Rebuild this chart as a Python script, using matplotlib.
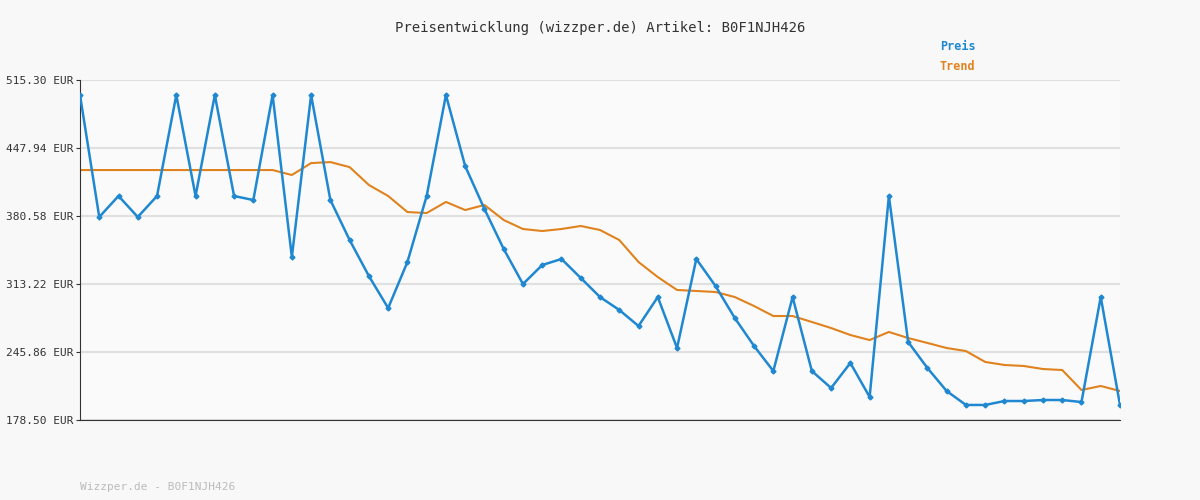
import matplotlib
matplotlib.use("Agg")
import matplotlib.pyplot as plt

preis = [500.4,379.6,400.4,379.6,400.4,500.4,400.4,500.4,400.4,396.4,500.4,340.0,500.4,396.4,356.8,321.1,289.4,335.0,400.4,500.4,
         430.0,387.5,347.9,313.2,332.0,338.0,319.2,300.3,287.5,271.6,300.3,249.8,338.0,311.2,279.5,251.8,227.0,300.3,227.0,210.2,
         235.0,201.3,400.4,255.8,230.0,207.2,193.4,193.4,197.3,197.3,198.3,198.3,196.3,300.3,193.4]
trend = [426.1]*11 + [421.2,433.0,434.0,429.0,411.3,400.4,384.5,383.5,394.5,386.5,391.5,376.6,367.7,365.7,367.7,370.7,366.7,356.8,
         335.0,320.1,307.3,306.3,305.3,300.3,291.4,281.5,281.5,275.6,269.6,262.7,257.7,265.7,259.7,254.8,249.8,246.8,236.0,233.0,
         232.0,229.0,228.0,208.2,212.2,207.2]
yticks = [178.50,245.86,313.22,380.58,447.94,515.30]
title = "Preisentwicklung (wizzper.de) Artikel: B0F1NJH426"

plt.rcParams['font.family'] = ['DejaVu Sans Mono']
fig = plt.figure(figsize=(12,5), dpi=100, facecolor='#f8f8f8')
ax = fig.add_axes([80/1200, 80/500, 1040/1200, 340/500])
ax.set_facecolor('#fafafa')
x = list(range(len(preis)))
ax.plot(x, trend, color='#e0821e', lw=1.5, zorder=2)
ax.plot(x, preis, color='#1f88d0', lw=1.8, marker='D', ms=2.5, zorder=3)
ax.set_xlim(0, len(preis)-1)
ax.set_ylim(178.50, 515.30)
ax.set_yticks(yticks)
ax.set_yticklabels([f"{v:.2f} EUR" for v in yticks], fontsize=8, color='#333333')
ax.set_xticks([])
ax.grid(axis='y', color='#e0e0e0', lw=1.5)
for s in ['top','right']:
    ax.spines[s].set_visible(False)
ax.spines['left'].set_color('#333333')
ax.spines['bottom'].set_color('#333333')
ax.tick_params(axis='y', length=3, pad=2, color='#333333')
fig.text(0.5, 1-28/500, title, ha='center', va='center', fontsize=10, color='#333333')
fig.text(940/1200, 1-47/500, "Preis", color='#1f88d0', fontsize=8.5, fontweight='bold', va='center')
fig.text(940/1200, 1-67/500, "Trend", color='#e0821e', fontsize=8.5, fontweight='bold', va='center')
fig.text(80/1200, 1-487/500, "Wizzper.de - B0F1NJH426", color='#bbbbbb', fontsize=8, va='center')
fig.savefig("out.png", dpi=100, facecolor=fig.get_facecolor())
